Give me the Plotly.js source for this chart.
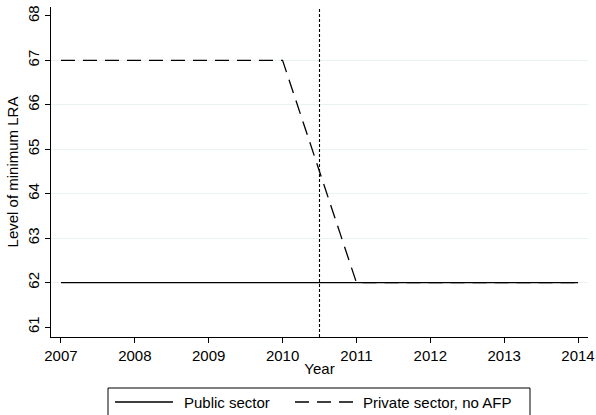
<!DOCTYPE html>
<html><head><meta charset="utf-8">
<script src="https://cdn.plot.ly/plotly-3.0.1.min.js"></script>
<style>body{margin:0;background:#fff}#c{width:596px;height:415px}</style>
</head><body><div id="c"></div>
<script>
const years = [2007, 2008, 2009, 2010, 2011, 2012, 2013, 2014];
const publicSector = [62, 62, 62, 62, 62, 62, 62, 62];
const privateNoAFP = [67, 67, 67, 67, 62, 62, 62, 62];
const reformYear = 2010.5;
const yTicks = [61, 62, 63, 64, 65, 66, 67, 68];
const seriesNames = ['Public sector', 'Private sector, no AFP'];

const font = {family: 'Liberation Sans, Arial, sans-serif', size: 15, color: '#000'};
const solidLine = {color: '#000', width: 1.3, dash: 'solid'};
const dashLine = {color: '#000', width: 1.3, dash: '14px,8px'};
const data = [
  {x: years, y: publicSector, type: 'scatter', mode: 'lines', name: seriesNames[0], line: solidLine},
  {x: years, y: privateNoAFP, type: 'scatter', mode: 'lines', name: seriesNames[1], line: dashLine}
];

// plot area in pixels: x 51..588, y 7..337
const L = 51, W = 537, B = 337, H = 330;
const px = p => (p - L) / W;
const py = p => (B - p) / H;
const legY = 402;
const shapes = [
  {type: 'line', xref: 'x', yref: 'paper', x0: reformYear, x1: reformYear, y0: 0, y1: 1,
   line: {color: '#000', width: 1.1, dash: '3px,2px'}},
  {type: 'rect', xref: 'paper', yref: 'paper', x0: px(108), x1: px(530), y0: py(388), y1: py(425),
   line: {color: '#000', width: 1}, fillcolor: 'rgba(0,0,0,0)'},
  {type: 'line', xref: 'paper', yref: 'paper', x0: px(115), x1: px(173), y0: py(legY), y1: py(legY), line: solidLine},
  {type: 'line', xref: 'paper', yref: 'paper', x0: px(295), x1: px(353), y0: py(legY), y1: py(legY), line: dashLine}
];
const annotations = [
  {xref: 'paper', yref: 'paper', x: px(182), y: py(legY), xanchor: 'left', yanchor: 'middle',
   text: seriesNames[0], showarrow: false, font: font},
  {xref: 'paper', yref: 'paper', x: px(361), y: py(legY), xanchor: 'left', yanchor: 'middle',
   text: seriesNames[1], showarrow: false, font: font}
];
const layout = {
  width: 596, height: 415,
  margin: {l: 51, r: 8, t: 7, b: 78, autoexpand: false},
  paper_bgcolor: '#fff', plot_bgcolor: '#fff',
  font: font,
  showlegend: false,
  xaxis: {range: [2006.865, 2014.135], tickvals: years, ticks: 'outside', ticklen: 5,
          tickcolor: '#000', showline: true, linecolor: '#000', linewidth: 1,
          showgrid: false, zeroline: false, tickfont: font,
          title: {text: 'Year', font: font, standoff: 0}},
  yaxis: {range: [60.775, 68.2], tickvals: yTicks, ticks: 'outside', ticklen: 5,
          tickcolor: '#000', showline: true, linecolor: '#000', linewidth: 1,
          showgrid: false, zeroline: false,
          minor: {tickvals: yTicks.slice(1, -1), ticks: '', showgrid: true, gridcolor: '#eaf2f3', gridwidth: 1},
          tickangle: -90, tickfont: font,
          title: {text: 'Level of minimum LRA', font: font, standoff: 2}},
  shapes: shapes,
  annotations: annotations
};
Plotly.newPlot('c', data, layout, {displayModeBar: false, staticPlot: true});
</script></body></html>
